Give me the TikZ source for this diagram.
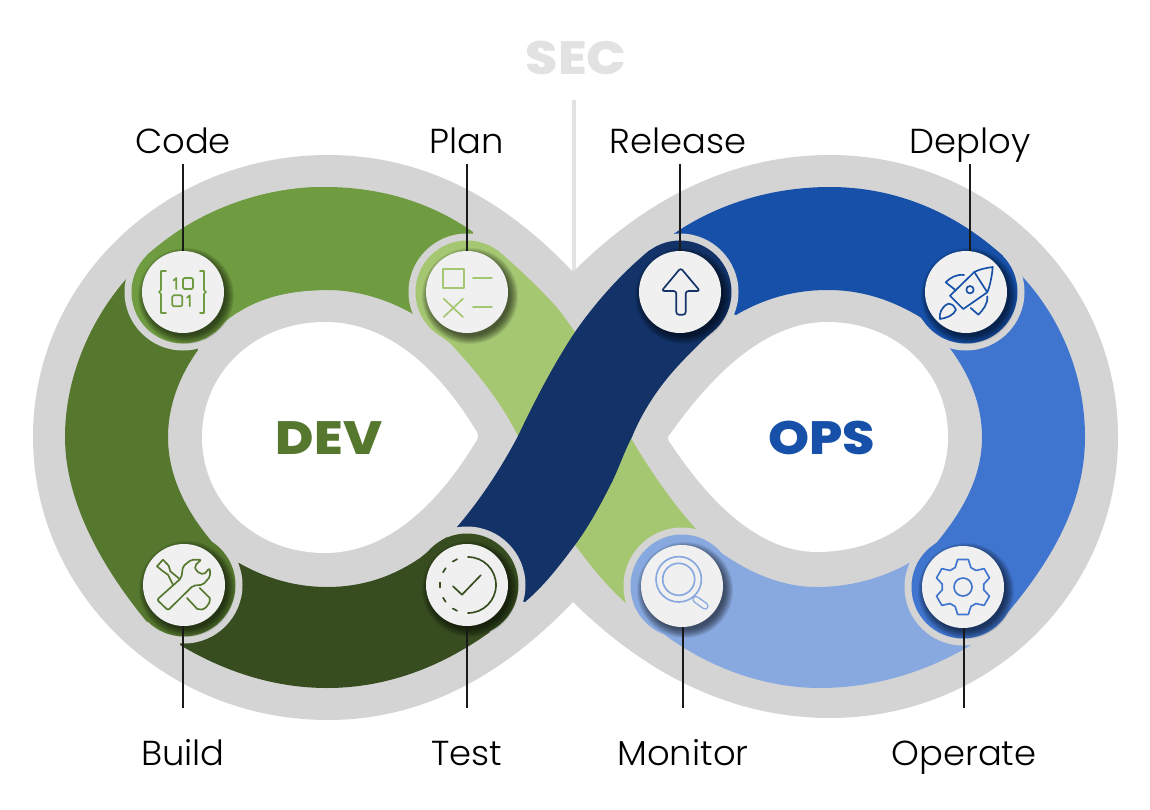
\documentclass[tikz,border=0pt]{standalone}
\usepackage{fontspec}
\setmainfont{Poppins Light}[FakeStretch=1.02]
\newfontfamily\heavyfont{Poppins ExtraBold}[FakeStretch=1.12]
\definecolor{ribgray}{HTML}{D4D4D4}
\definecolor{secgray}{HTML}{E2E2E2}
\definecolor{discfill}{HTML}{F0F0F0}
\definecolor{cCode}{HTML}{6F9C40}
\definecolor{cPlan}{HTML}{A5C772}
\definecolor{cBuild}{HTML}{55772E}
\definecolor{cTest}{HTML}{374D20}
\definecolor{cRelease}{HTML}{123268}
\definecolor{cDeploy}{HTML}{1650A8}
\definecolor{cOperate}{HTML}{3F75CF}
\definecolor{cMonitor}{HTML}{88A9E0}
\newcommand\bodyCode{(183,292) -- (147,255) .. controls (195,212) and (260,187) .. (325,187) .. controls (385,187) and (435,205) .. (473,232) -- (467,292) -- (413,314) .. controls (385,298) and (355,290) .. (327,290) .. controls (280,290) and (250,302) .. (227,320) .. controls (218,328) and (212,333) .. (205,339) -- cycle}
\newcommand\bodyPlan{(467,292) -- (497,250) .. controls (515,265) and (533,282) .. (550,300) .. controls (560,310) and (567,321) .. (575,332) -- (632,440) .. controls (650,470) and (672,503) .. (697,530) -- (682,586) -- (628,605) .. controls (605,585) and (588,562) .. (575,545) .. controls (553,512) and (535,470) .. (518,436) .. controls (500,400) and (475,370) .. (450,343) -- (431,329) -- cycle}
\newcommand\bodyMonitor{(682,586) -- (643,617) .. controls (690,660) and (755,688) .. (820,688) .. controls (880,688) and (935,668) .. (976,642) -- (963,587) -- (914,560) .. controls (885,578) and (850,587) .. (817,587) .. controls (775,587) and (740,567) .. (713,547) -- cycle}
\newcommand\bodyOperate{(963,587) -- (997,625) .. controls (1050,565) and (1085,505) .. (1085,437) .. controls (1085,375) and (1060,315) .. (1018,272) -- (966,292) -- (949,347) .. controls (970,375) and (982,405) .. (982,437) .. controls (982,480) and (960,515) .. (933,547) -- cycle}
\newcommand\bodyDeploy{(966,292) -- (1003,256) .. controls (955,212) and (895,187) .. (830,187) .. controls (770,187) and (715,205) .. (672,235) -- (680,292) -- (736,315) .. controls (765,298) and (795,290) .. (828,290) .. controls (865,290) and (895,302) .. (920,317) .. controls (928,325) and (938,333) .. (950,340) -- cycle}
\newcommand\bodyRelease{(680,292) -- (650,250) .. controls (625,270) and (597,300) .. (575,332) .. controls (555,362) and (535,400) .. (518,436) .. controls (500,470) and (480,500) .. (457,527) -- (467,585) -- (525,602) .. controls (545,585) and (560,565) .. (575,545) .. controls (590,525) and (603,500) .. (613,480) .. controls (620,465) and (625,450) .. (632,437) .. controls (645,405) and (665,380) .. (677,367) .. controls (688,355) and (700,343) .. (711,333) -- cycle}
\newcommand\bodyTest{(467,585) -- (490,632) .. controls (440,668) and (385,688) .. (327,688) .. controls (275,688) and (225,672) .. (180,645) -- (184,585) -- (239,563) .. controls (265,578) and (295,587) .. (327,587) .. controls (365,587) and (395,575) .. (420,558) .. controls (430,550) and (438,543) .. (447,537) -- cycle}
\newcommand\bodyBuild{(184,585) -- (147,622) .. controls (100,565) and (65,500) .. (65,437) .. controls (65,378) and (90,320) .. (127,278) -- (183,292) -- (198,350) .. controls (180,375) and (168,405) .. (168,437) .. controls (168,475) and (185,510) .. (213,543) -- cycle}
\tikzset{
  ringcirc/.style={fill=ribgray},
  discnode/.style={circle,fill=discfill,minimum size=61.5pt,inner sep=0pt},
  labelnode/.style={font=\fontsize{26}{26}\selectfont,anchor=base,inner sep=0pt,text height=21pt,text depth=8pt},
  connector/.style={draw=black!90,line width=1.5pt},
  iconline/.style={line width=1.25pt,line join=round,line cap=round},
  heavytext/.style={font=\heavyfont\fontsize{35}{35}\selectfont,inner sep=0pt}
}
\newcommand\headat[3]{\fill[ringcirc] (#1,#2) circle [radius=58.5];\fill[#3] (#1,#2) circle [radius=51.5];}
\newcommand\shadowat[2]{\foreach \rr in {40,41,...,48}{\fill[black,opacity=0.08] (#1+3,#2+4) circle [radius=\rr];}}
\begin{document}
\begin{tikzpicture}[x=0.75pt,y=-0.75pt]
\useasboundingbox (0,0) rectangle (1150,810);
% SEC
\node[heavytext,text=secgray] (sec) at (576,58) {SEC};
\coordinate (sectop) at (574,100);
\coordinate (secfoot) at (574,275);
\draw[secgray,line width=2.5pt] (sectop) -- (secfoot);
% gray ribbon
\fill[ribgray] (33,437) .. controls (33,281) and (165,155) .. (328,155) .. controls (430,155) and (510,205) .. (573,272) .. controls (640,205) and (725,155) .. (830,155) .. controls (990,155) and (1118,281) .. (1118,437) .. controls (1118,593) and (990,718) .. (830,718) .. controls (725,718) and (640,668) .. (573,602) .. controls (510,668) and (430,720) .. (328,720) .. controls (165,720) and (33,593) .. (33,437) -- cycle;
\fill[white] (202,437) .. controls (202,372) and (255,322) .. (325,322) .. controls (390,322) and (440,372) .. (475,429) .. controls (477,432) and (478,434) .. (478,436) .. controls (478,438) and (477,440) .. (475,443) .. controls (440,500) and (390,553) .. (325,553) .. controls (255,553) and (202,502) .. (202,437) -- cycle;
\fill[white] (948,437) .. controls (948,370) and (895,322) .. (827,322) .. controls (760,322) and (705,385) .. (671,433) .. controls (669,435) and (668,437) .. (668,438) .. controls (668,440) and (669,442) .. (671,444) .. controls (705,495) and (755,552) .. (817,552) .. controls (890,552) and (948,505) .. (948,437) -- cycle;
% segments
\fill[cCode] \bodyCode;
\headat{467}{292}{cPlan}
\fill[cPlan] \bodyPlan;
\headat{682}{586}{cMonitor}
\fill[cMonitor] \bodyMonitor;
\headat{963}{587}{cOperate}
\fill[cOperate] \bodyOperate;
\headat{966}{292}{cDeploy}
\fill[cDeploy] \bodyDeploy;
\headat{680}{292}{cRelease}
\fill[cRelease] \bodyRelease;
\headat{467}{585}{cTest}
\fill[cTest] \bodyTest;
\headat{184}{585}{cBuild}
\fill[cBuild] \bodyBuild;
\headat{183}{292}{cCode}
\begin{scope}
\clip (100,150) rectangle (320,360);
\fill[cCode] \bodyCode;
\end{scope}
% shadows
\shadowat{183}{292}\shadowat{467}{292}\shadowat{680}{292}\shadowat{966}{292}
\shadowat{184}{585}\shadowat{467}{585}\shadowat{682}{586}\shadowat{963}{587}
% discs
\node[discnode] (code) at (183,292) {};
\node[discnode] (plan) at (467,292) {};
\node[discnode] (release) at (680,292) {};
\node[discnode] (deploy) at (966,292) {};
\node[discnode] (build) at (184,585) {};
\node[discnode] (test) at (467,585) {};
\node[discnode] (monitor) at (682,586) {};
\node[discnode] (operate) at (963,587) {};
% labels
\node[labelnode] (lcode) at (183,153) {Code};
\node[labelnode] (lplan) at (467,153) {Plan};
\node[labelnode] (lrelease) at (678,153) {Release};
\node[labelnode] (ldeploy) at (970,153) {Deploy};
\node[labelnode] (lbuild) at (183,765) {Build};
\node[labelnode] (ltest) at (467,765) {Test};
\node[labelnode] (lmonitor) at (683,765) {Monitor};
\node[labelnode] (loperate) at (964,765) {Operate};
\node[heavytext,text=cBuild] (dev) at (329,438) {DEV};
\node[heavytext,text=cDeploy] (ops) at (822,438) {OPS};
% connectors
\draw[connector] (lcode.south) -- (lcode.south |- code.north);
\draw[connector] (lplan.south) -- (lplan.south |- plan.north);
\draw[connector] ([xshift=1.5pt]lrelease.south) -- ([xshift=1.5pt]lrelease.south |- release.north);
\draw[connector] (ldeploy.south) -- (ldeploy.south |- deploy.north);
\draw[connector] (lbuild.north |- build.south) -- ([yshift=21.75pt]lbuild.north);
\draw[connector] (ltest.north |- test.south) -- ([yshift=21.75pt]ltest.north);
\draw[connector] (lmonitor.north |- monitor.south) -- ([yshift=21.75pt]lmonitor.north);
\draw[connector] (loperate.north |- operate.south) -- ([yshift=21.75pt]loperate.north);
% icon: code
\begin{scope}[shift={(183,292)},iconline,draw=cCode]
\draw (-17,-21) -- (-22,-21) -- (-22,-2) -- (-24,0) -- (-22,2) -- (-22,21) -- (-17,21);
\draw (17,-21) -- (21,-21) -- (21,-2) -- (23,0) -- (21,2) -- (21,21) -- (17,21);
\draw (-9.5,-11.5) -- (-6.7,-14) -- (-6.7,-3);
\draw[rounded corners=1pt] (0,-14) rectangle (10,-3);
\draw[rounded corners=1pt] (-10.7,3.3) rectangle (-0.7,14.3);
\draw (4,5.8) -- (6.7,3.3) -- (6.7,14.3);
\end{scope}
% icon: plan
\begin{scope}[shift={(467,292)},iconline,draw=cPlan]
\draw (-24,-23) rectangle (-3.3,-4);
\draw (6,-13.7) -- (25,-13.7);
\draw (-23.3,6.7) -- (-4,25) (-4,6.7) -- (-23.3,25);
\draw (6,15.3) -- (25,15.3);
\end{scope}
% icon: release
\begin{scope}[shift={(680,292)},iconline,draw=cRelease]
\draw[rounded corners=2pt] (0.7,-24) -- (20,-1) -- (5.7,-1) -- (5.7,22.7) -- (-3.7,22.7) -- (-3.7,-1) -- (-18.5,-1) -- cycle;
\end{scope}
% icon: deploy
\begin{scope}[shift={(966,292)},iconline,draw=cDeploy]
\draw (-16,3.7) -- (8.3,-20) .. controls (14,-23) and (20,-24) .. (26.7,-25) .. controls (26,-16) and (24,-6) .. (21.3,0.3) -- (-2.7,17) -- cycle;
\draw (8.3,-20) -- (21.3,0.3);
\draw (4,-2.3) circle [radius=3.7];
\draw (-26,27) .. controls (-27,22) and (-25,15) .. (-17.7,11.7) .. controls (-13,12) and (-11,15) .. (-10,17.7) .. controls (-12,23) and (-19,26) .. (-26,27) -- cycle;
\draw (-11,-2.3) -- (-20.3,-9.7) .. controls (-16,-14) and (-10,-18) .. (-2,-17);
\draw (4.7,16) -- (12.3,22.7) .. controls (17,18) and (22,12) .. (21.3,4.3);
\end{scope}
% icon: build
\begin{scope}[shift={(184,585)},iconline,draw=cBuild]
\draw[rounded corners=1.5pt] (-27,14.7) -- (-16,25.3) -- (9,0.7) -- (19,-0.3) -- (26.3,-8.7) -- (25.7,-17) -- (19.7,-10.3) -- (12.3,-13.7) -- (10.7,-19.3) -- (17.3,-25.3) -- (7.3,-25.3) -- (-1,-18.7) -- (-2.7,-7) -- cycle;
\draw (-4.3,-6) -- (-13.7,-13.7) -- (-15.3,-19.3) -- (-21,-25.3) -- (-27,-18.7) -- (-21,-13.7) -- (-16,-10.3) -- (-11,-0.3);
\draw (3,13) -- (13.3,24) .. controls (19,27) and (27,20) .. (25.7,13) -- (15.7,3);
\end{scope}
% icon: test
\begin{scope}[shift={(467,585)},iconline,draw=cTest]
\draw (1,-28) arc [start angle=-90,end angle=90,radius=28];
\foreach \aa in {118,148,180,212,242}{\draw ({1+28*cos(\aa-5)},{-28*sin(\aa-5)}) -- ({1+28*cos(\aa+5)},{-28*sin(\aa+5)});}
\draw (-14,1.3) -- (-5,9.7) -- (13.7,-9.7);
\end{scope}
% icon: monitor
\begin{scope}[shift={(682,586)},iconline,draw=cMonitor]
\draw (-3.3,-6.7) circle [radius=22.7];
\draw (-3.3,-6.7) circle [radius=16];
\draw[line width=5.5pt,line cap=round] (14,13.5) -- (23,20);
\draw[discfill,line width=3.3pt,line cap=round] (14,13.5) -- (23,20);
\end{scope}
% icon: operate
\begin{scope}[shift={(963,587)},iconline,draw=cOperate]
\draw (68:21) \foreach \tt in {90,150,210,270,330,30}{ -- (\tt-22:21) -- (\tt-11:28) -- (\tt+11:28) -- (\tt+22:21)} -- cycle;
\draw (0,0) circle [radius=9];
\end{scope}
\end{tikzpicture}
\end{document}
